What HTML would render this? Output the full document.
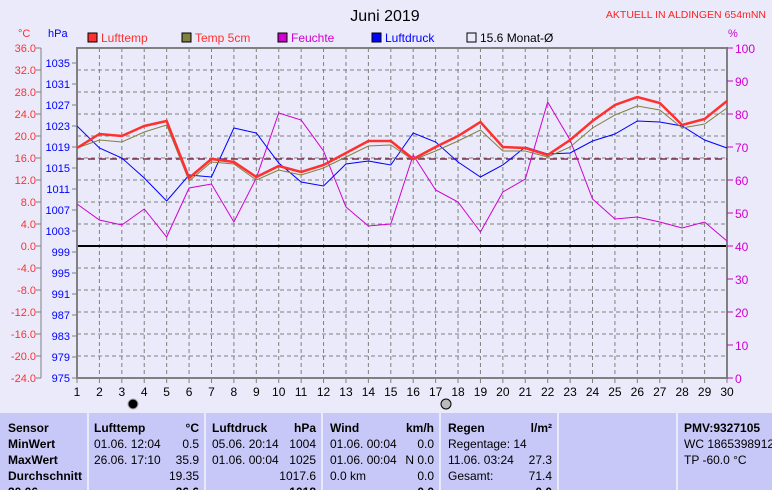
<!DOCTYPE html>
<html><head><meta charset="utf-8"><style>
body{margin:0;width:772px;height:490px;overflow:hidden;background:#eaeafa;font-family:"Liberation Sans",sans-serif}
svg{position:absolute;left:0;top:0}
</style></head><body>
<svg id="s" width="772" height="490" xmlns="http://www.w3.org/2000/svg" font-family="Liberation Sans, sans-serif"></svg>
<script>
const s=document.getElementById('s');let h='';
const X=d=>77+(d-1)*650/29;
h+='<rect x="0" y="413" width="772" height="77" fill="#c8c8f8"/>';
[88,205,322,440,558,677].forEach(x=>{h+=`<line x1="${x}" y1="413" x2="${x}" y2="490" stroke="#eaeafa" stroke-width="2"/>`});
for(let d=2;d<=29;d++)h+=`<line x1="${X(d)}" y1="48" x2="${X(d)}" y2="378" stroke="#808080" stroke-dasharray="4,3"/>`;
for(let i=1;i<15;i++){let y=48+i*22;if(y!=246)h+=`<line x1="77" y1="${y}" x2="727" y2="${y}" stroke="#808080" stroke-dasharray="4,3"/>`}
h+='<line x1="77" y1="246" x2="727" y2="246" stroke="#000" stroke-width="2"/>';
h+='<rect x="77" y="48" width="650" height="330" fill="none" stroke="#808080" stroke-width="2"/>';
h+='<line x1="41" y1="48" x2="41" y2="378" stroke="#808080"/>';
for(let i=0;i<=15;i++){let y=48+i*22,v=(36-4*i).toFixed(1);h+=`<line x1="36" y1="${y}" x2="41" y2="${y}" stroke="#808080"/><text x="36" y="${y+4}" font-size="11" fill="#ff3030" text-anchor="end">${v}</text>`}
for(let i=0;i<=15;i++){let y=378-i*315/15,p=975+4*i;h+=`<line x1="72" y1="${y}" x2="77" y2="${y}" stroke="#808080"/><text x="70" y="${y+4}" font-size="11" fill="#0000ff" text-anchor="end">${p}</text>`}
for(let i=0;i<=10;i++){let y=378-i*33;h+=`<line x1="727" y1="${y}" x2="733" y2="${y}" stroke="#d000d0"/><text x="735" y="${y+5}" font-size="12" fill="#d000d0">${i*10}</text>`}
for(let d=1;d<=30;d++)h+=`<line x1="${X(d)}" y1="378" x2="${X(d)}" y2="383" stroke="#808080"/><text x="${X(d)}" y="396" font-size="12" text-anchor="middle">${d}</text>`;
h+='<circle cx="133" cy="404" r="5" fill="#000" stroke="#aaa"/><circle cx="446" cy="404" r="5" fill="#bbb" stroke="#000"/>';
h+='<text x="18" y="37" font-size="11" fill="#ff3030">°C</text><text x="48" y="37" font-size="11" fill="#0000ff">hPa</text><text x="728" y="37" font-size="11" fill="#d000d0">%</text>';
h+='<text x="385" y="21" font-size="16" text-anchor="middle">Juni 2019</text>';
h+='<text x="766" y="18" font-size="10.5" fill="#ff2020" text-anchor="end">AKTUELL IN ALDINGEN 654mNN</text>';
const L=[[88,'#ff3030','Lufttemp','#ff3030'],[182,'#808040','Temp 5cm','#ff3030'],[278,'#d000d0','Feuchte','#d000d0'],[372,'#0000ff','Luftdruck','#0000ff'],[467,'#eaeafa','15.6 Monat-Ø','#000']];
L.forEach(l=>{h+=`<rect x="${l[0]}" y="33" width="9" height="9" fill="${l[1]}" stroke="#000"/><text x="${l[0]+13}" y="42" font-size="12" fill="${l[3]}">${l[2]}</text>`});
h+='<line x1="77" y1="159" x2="727" y2="159" stroke="#803050" stroke-width="1.5" stroke-dasharray="7,4"/>';
const P=(a,c,w)=>{h+=`<polyline fill="none" stroke="${c}" stroke-width="${w}" points="${a.map((y,i)=>X(i+1)+','+y).join(' ')}"/>`};
P([204,220,225,209,237,188,184,222,178,113,120,151,207,226,224,155,190,202,232,192,179,102,140,199,219,217,222,228,222,241],'#d000d0',1);
P([126,148,158,178,201,175,177,128,133,163,182,186,164,161,165,133,142,162,177,165,147,154,153,141,134,121,122,126,140,148],'#0000ff',1);
P([148,140,142,132,125,181,162,164,180,170,175,168,157,146,145,160,151,141,130,151,151,157,147,128,115,106,110,128,124,108],'#808040',1);
P([148,134,136,126,121,178,159,162,177,166,172,165,153,141,141,159,147,136,122,147,148,155,140,121,105,97,103,125,119,101],'#ff3030',2.5);
const T=(x,y,t,o)=>{h+=`<text x="${x}" y="${y}" font-size="12" ${o||''}>${t}</text>`};
const B='font-weight="bold"',R='text-anchor="end"',RB='text-anchor="end" font-weight="bold"';
[['Sensor',432],['MinWert',448],['MaxWert',464],['Durchschnitt',480],['30.06.',496]].forEach(r=>T(8,r[1],r[0],B));
T(94,432,'Lufttemp',B);T(199,432,'°C',RB);T(94,448,'01.06.  12:04');T(199,448,'0.5',R);T(94,464,'26.06.  17:10');T(199,464,'35.9',R);T(199,480,'19.35',R);T(199,496,'26.6',RB);
T(212,432,'Luftdruck',B);T(316,432,'hPa',RB);T(212,448,'05.06.  20:14');T(316,448,'1004',R);T(212,464,'01.06.  00:04');T(316,464,'1025',R);T(316,480,'1017.6',R);T(316,496,'1018',RB);
T(330,432,'Wind',B);T(434,432,'km/h',RB);T(330,448,'01.06.  00:04');T(434,448,'0.0',R);T(330,464,'01.06.  00:04');T(434,464,'N 0.0',R);T(330,480,'0.0 km');T(434,480,'0.0',R);T(434,496,'0.0',RB);
T(448,432,'Regen',B);T(552,432,'l/m²',RB);T(448,448,'Regentage: 14');T(448,464,'11.06.  03:24');T(552,464,'27.3',R);T(448,480,'Gesamt:');T(552,480,'71.4',R);T(552,496,'0.0',RB);
T(684,432,'PMV:9327105',B);T(684,448,'WC 1865398912');T(684,464,'TP -60.0 °C');
s.innerHTML=h;
</script>
</body></html>
